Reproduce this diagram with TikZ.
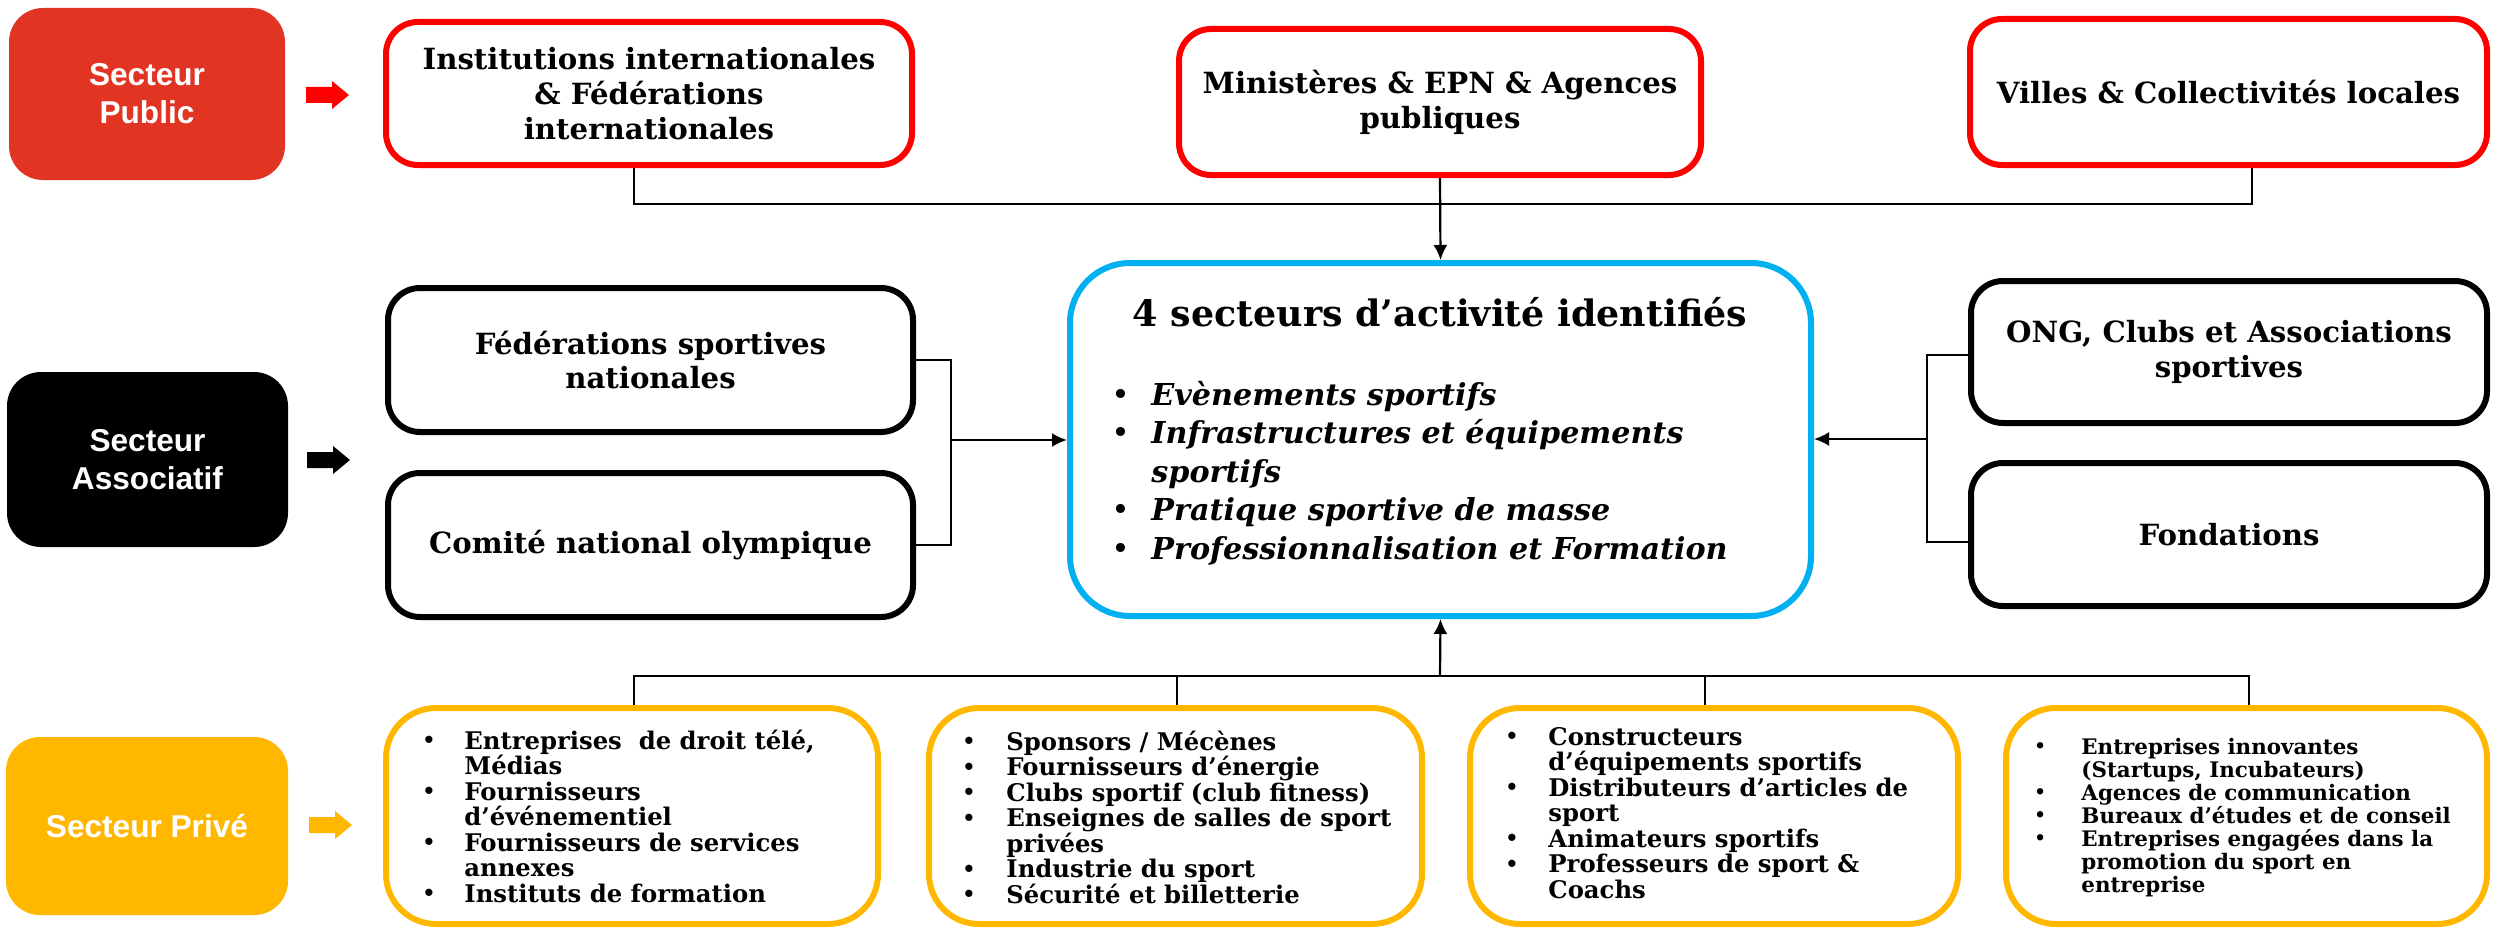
\documentclass[tikz,border=0pt]{standalone}
\usepackage{fontspec}
\setmainfont{DejaVu Serif}
\newfontfamily\labfont{Liberation Sans}
\usetikzlibrary{arrows.meta}
\definecolor{pubred}{RGB}{225,52,34}
\definecolor{bred}{RGB}{255,0,0}
\definecolor{cblue}{RGB}{0,176,240}
\definecolor{cyel}{RGB}{255,183,0}
\newcommand\bul[1]{\makebox[#1][l]{\raisebox{0.05em}{\scalebox{0.85}{\textbullet}}}}
\begin{document}
\begin{tikzpicture}[x=0.5pt,y=-0.5pt,
  lab/.style={rounded corners=17pt, text=white, font=\labfont\bfseries\fontsize{15.8}{19}\selectfont, align=center, inner sep=0pt},
  redbox/.style={draw=bred, line width=3pt, rounded corners=16pt, fill=white, align=center, font=\bfseries\fontsize{14.6}{17.4}\selectfont, inner sep=0pt},
  blkbox/.style={redbox, draw=black},
  yelbox/.style={draw=cyel, line width=3pt, rounded corners=25pt, inner sep=0pt},
  centerbox/.style={draw=cblue, line width=3pt, rounded corners=30pt, inner sep=0pt},
  conn/.style={line width=1.1pt},
  arr/.style={conn, -{Latex[length=7.5pt,width=7pt]}},
  blist/.style={anchor=base west, align=left, inner sep=0pt, font=\bfseries\fontsize{12.15}{12.75}\selectfont},
  blockarrow/.pic={\fill (0,-8) -- (26,-8) -- (26,-14) -- (43,0) -- (26,14) -- (26,8) -- (0,8) -- cycle;}
]
\useasboundingbox (0,0) rectangle (2494,931);

% sector labels
\node[lab, fill=pubred, minimum width=138pt, minimum height=86pt] (SP) at (147,94) {Secteur\\Public};
\node[lab, fill=black, minimum width=140.5pt, minimum height=87.5pt] (SA) at (147.5,459.5) {Secteur\\Associatif};
\node[lab, fill=cyel, minimum width=141pt, minimum height=89pt] (SV) at (147,826) {Secteur Privé};

\pic[bred] (aP) at (306,95) {blockarrow};
\pic[black] (aA) at (307,460) {blockarrow};
\pic[cyel] (aV) at (309,825) {blockarrow};

% public
\node[redbox, minimum width=263pt, minimum height=71.5pt] (Inst) at (649,93.5) {Institutions internationales\\\& Fédérations\\internationales};
\node[redbox, minimum width=261pt, minimum height=73pt] (Min) at (1440,102) {Ministères \& EPN \& Agences\\publiques};
\node[redbox, minimum width=258.5pt, minimum height=73pt] (Villes) at (2228.5,92) {Villes \& Collectivités locales};

% associatif
\node[blkbox, minimum width=262.5pt, minimum height=72pt] (Fed) at (650.5,360) {Fédérations sportives\\nationales};
\node[blkbox, minimum width=262.5pt, minimum height=72pt] (Com) at (650.5,545) {Comité national olympique};
\node[blkbox, minimum width=258pt, minimum height=71pt] (ONG) at (2229,352) {ONG, Clubs et Associations\\sportives};
\node[blkbox, minimum width=258pt, minimum height=71.5pt] (Fond) at (2229,534.5) {Fondations};

% center
\node[centerbox, minimum width=370.5pt, minimum height=176.5pt] (Center) at (1440.5,439.5) {};
\node[anchor=base, inner sep=0pt, font=\bfseries\fontsize{18.2}{21}\selectfont] (title) at (1440,326) {4 secteurs d’activité identifiés};
\node[anchor=base west, align=left, inner sep=0pt, font=\bfseries\itshape\fontsize{15.1}{19.25}\selectfont] (clist) at (1112,559)
 {\bul{19.5pt}Evènements sportifs\\
  \bul{19.5pt}Infrastructures et équipements\\
  \hspace*{19.5pt}sportifs\\
  \bul{19.5pt}Pratique sportive de masse\\
  \bul{19.5pt}Professionnalisation et Formation};

% prive boxes
\node[yelbox, minimum width=246pt, minimum height=108pt] (B1) at (632,816) {};
\node[yelbox, minimum width=246.5pt, minimum height=108pt] (B2) at (1175.5,816) {};
\node[yelbox, minimum width=244pt, minimum height=108pt] (B3) at (1714,816) {};
\node[yelbox, minimum width=240.5pt, minimum height=108pt] (B4) at (2246.5,816) {};

\node[blist] (L1) at (422,902)
 {\bul{21pt}Entreprises \ de droit télé,\\
  \hspace*{21pt}Médias\\
  \bul{21pt}Fournisseurs\\
  \hspace*{21pt}d’événementiel\\
  \bul{21pt}Fournisseurs de services\\
  \hspace*{21pt}annexes\\
  \bul{21pt}Instituts de formation};
\node[blist] (L2) at (962,903)
 {\bul{22pt}Sponsors / Mécènes\\
  \bul{22pt}Fournisseurs d’énergie\\
  \bul{22pt}Clubs sportif (club fitness)\\
  \bul{22pt}Enseignes de salles de sport\\
  \hspace*{22pt}privées\\
  \bul{22pt}Industrie du sport\\
  \bul{22pt}Sécurité et billetterie};
\node[blist] (L3) at (1505,898)
 {\bul{21.5pt}Constructeurs\\
  \hspace*{21.5pt}d’équipements sportifs\\
  \bul{21.5pt}Distributeurs d’articles de\\
  \hspace*{21.5pt}sport\\
  \bul{21.5pt}Animateurs sportifs\\
  \bul{21.5pt}Professeurs de sport \&\\
  \hspace*{21.5pt}Coachs};
\node[blist, font=\bfseries\fontsize{10.7}{11.5}\selectfont] (L4) at (2034,892)
 {\bul{23.5pt}Entreprises innovantes\\
  \hspace*{23.5pt}(Startups, Incubateurs)\\
  \bul{23.5pt}Agences de communication\\
  \bul{23.5pt}Bureaux d’études et de conseil\\
  \bul{23.5pt}Entreprises engagées dans la\\
  \hspace*{23.5pt}promotion du sport en\\
  \hspace*{23.5pt}entreprise};

% connectors top
\coordinate (t1) at (634,204);
\coordinate (t3) at (2252,204);
\draw[conn] (Inst.south -| t1) -- (t1) -- (t3) -- (Villes.south -| t3);
\draw[arr] (Min.south) -- (Center.north);

% left bracket
\coordinate (lb) at (951,440);
\draw[conn] (Fed.east) -| (lb) |- (Com.east);
\draw[arr] (lb) -- (Center.west |- lb);

% right bracket
\coordinate (rbt) at (1927,355);
\coordinate (rbb) at (1927,542);
\coordinate (rb) at (1927,439);
\draw[conn] (ONG.west |- rbt) -- (rbt) -- (rbb) -- (Fond.west |- rbb);
\draw[arr] (rb) -- (Center.east |- rb);

% bottom
\coordinate (u1) at (634,676);
\coordinate (u2) at (1177,676);
\coordinate (u3) at (1705,676);
\coordinate (u4) at (2249,676);
\coordinate (u0) at (1440,676);
\draw[conn] (B1.north -| u1) -- (u1) -- (u4) -- (B4.north -| u4);
\draw[conn] (u2) -- (B2.north -| u2);
\draw[conn] (u3) -- (B3.north -| u3);
\draw[arr] (u0) -- (Center.south);
\end{tikzpicture}
\end{document}
